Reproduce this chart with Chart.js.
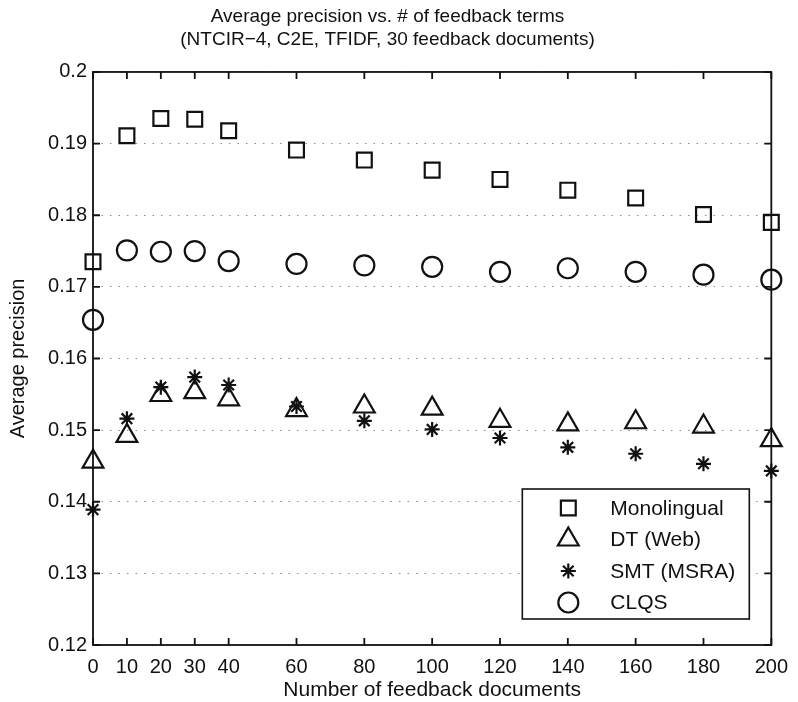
<!DOCTYPE html>
<html>
<head>
<meta charset="utf-8">
<script src="https://cdn.jsdelivr.net/npm/chart.js@4.4.1/dist/chart.umd.min.js"></script>
<style>
  html, body { margin: 0; padding: 0; background: #fff; }
  canvas { display: block; }
</style>
</head>
<body>
<canvas id="chartPrecision" width="798" height="702"></canvas>
<script>
// feedback document counts (x) and the four runs
var feedbackDocs = [0, 10, 20, 30, 40, 60, 80, 100, 120, 140, 160, 180, 200];
var monolingual = [0.1735, 0.1911, 0.1935, 0.1934, 0.1918, 0.1891, 0.1877, 0.1863, 0.1850, 0.1835, 0.1824, 0.1801, 0.1790];
var dtWeb = [0.1456, 0.1492, 0.1549, 0.1553, 0.1543, 0.1528, 0.1533, 0.1530, 0.1513, 0.1508, 0.1511, 0.1505, 0.1486];
var smtMsra = [0.1389, 0.1516, 0.1560, 0.1574, 0.1563, 0.1533, 0.1513, 0.1501, 0.1489, 0.1476, 0.1467, 0.1453, 0.1443];
var clqs = [0.1654, 0.1751, 0.1749, 0.1750, 0.1736, 0.1732, 0.1730, 0.1728, 0.1721, 0.1726, 0.1721, 0.1717, 0.1710];
var xTicks = [0, 10, 20, 30, 40, 60, 80, 100, 120, 140, 160, 180, 200];
var yTicks = [0.12, 0.13, 0.14, 0.15, 0.16, 0.17, 0.18, 0.19, 0.2];

var ink = '#111';
var fontFamily = '"Liberation Sans", Arial, Helvetica, sans-serif';

function toPoints(values) {
    return values.map(function (v, i) {
        return {x: feedbackDocs[i], y: v};
    });
}

function serie(label, values, style, radius) {
    return {
        label: label,
        data: toPoints(values),
        pointStyle: style,
        pointRadius: radius,
        pointBorderWidth: 2.2,
        pointBorderColor: ink,
        pointBackgroundColor: 'rgba(0,0,0,0)',
        showLine: false,
        clip: false
    };
}

// box, inward tick marks and the legend inside the plot
var matlabFrame = {
    id: 'matlabFrame',
    afterDraw: function (chart) {
        var ctx = chart.ctx;
        var a = chart.chartArea;
        var sx = chart.scales.x, sy = chart.scales.y;
        var tick = 7;
        ctx.save();
        ctx.strokeStyle = ink;
        ctx.lineWidth = 1.8;
        ctx.strokeRect(a.left, a.top, a.right - a.left, a.bottom - a.top);
        ctx.beginPath();
        sx.ticks.forEach(function (t) {
            var px = sx.getPixelForValue(t.value);
            ctx.moveTo(px, a.bottom); ctx.lineTo(px, a.bottom - tick);
            ctx.moveTo(px, a.top); ctx.lineTo(px, a.top + tick);
        });
        sy.ticks.forEach(function (t) {
            var py = sy.getPixelForValue(t.value);
            ctx.moveTo(a.left, py); ctx.lineTo(a.left + tick, py);
            ctx.moveTo(a.right, py); ctx.lineTo(a.right - tick, py);
        });
        ctx.stroke();

        // legend
        var w = 227, h = 130;
        var bx = a.right - 22 - w, by = a.bottom - 26 - h;
        ctx.fillStyle = '#fff';
        ctx.fillRect(bx, by, w, h);
        ctx.lineWidth = 1.6;
        ctx.strokeRect(bx, by, w, h);
        ctx.font = '21px ' + fontFamily;
        ctx.textBaseline = 'middle';
        ctx.textAlign = 'left';
        chart.data.datasets.forEach(function (ds, i) {
            var cy = by + 19 + i * 31.5;
            ctx.strokeStyle = ink;
            ctx.fillStyle = '#fff';
            ctx.lineWidth = 2.2;
            Chart.helpers.drawPoint(ctx, {
                pointStyle: ds.pointStyle,
                radius: ds.pointRadius,
                rotation: 0,
                borderWidth: 2.2
            }, bx + 46, cy);
            ctx.fillStyle = ink;
            ctx.fillText(ds.label, bx + 88, cy + 1);
        });
        ctx.restore();
    }
};

var chartPrecision = new Chart(document.getElementById('chartPrecision'), {
    type: 'scatter',
    data: {
        datasets: [
            serie('Monolingual', monolingual, 'rect', 10.5),
            serie('DT (Web)', dtWeb, 'triangle', 12),
            serie('SMT (MSRA)', smtMsra, 'star', 7.5),
            serie('CLQS', clqs, 'circle', 10)
        ]
    },
    options: {
        responsive: false,
        animation: false,
        devicePixelRatio: 1,
        layout: {
            padding: {left: 0, right: 23, top: 0, bottom: 0}
        },
        plugins: {
            legend: {display: false},
            tooltip: {enabled: false},
            title: {
                display: true,
                text: ['Average precision vs. # of feedback terms', '(NTCIR\u22124, C2E, TFIDF, 30 feedback documents)'],
                color: ink,
                font: {family: fontFamily, size: 19, weight: 'normal', lineHeight: 1.21},
                padding: {top: 5.5, bottom: 20.5}
            }
        },
        scales: {
            x: {
                type: 'linear',
                min: 0,
                max: 200,
                afterBuildTicks: function (scale) {
                    scale.ticks = xTicks.map(function (v) { return {value: v}; });
                },
                afterFit: function (scale) {
                    scale.height = 57;
                },
                grid: {display: false, drawTicks: false},
                border: {display: false},
                ticks: {
                    color: ink,
                    padding: 10,
                    maxRotation: 0,
                    autoSkip: false,
                    font: {family: fontFamily, size: 20}
                },
                title: {
                    display: true,
                    text: 'Number of feedback documents',
                    color: ink,
                    font: {family: fontFamily, size: 21, lineHeight: 1.1},
                    padding: {top: 0, bottom: 0}
                }
            },
            y: {
                min: 0.12,
                max: 0.2,
                afterBuildTicks: function (scale) {
                    scale.ticks = yTicks.map(function (v) { return {value: v}; });
                },
                afterFit: function (scale) {
                    scale.width = 93;
                },
                grid: {color: '#8a8a8a', lineWidth: 1, drawTicks: false},
                border: {display: false, dash: [1.5, 7]},
                ticks: {
                    color: ink,
                    padding: 6,
                    font: {family: fontFamily, size: 20},
                    callback: function (v) { return String(Number(v.toFixed(2))); }
                },
                title: {
                    display: true,
                    text: 'Average precision',
                    color: ink,
                    font: {family: fontFamily, size: 20, lineHeight: 1.2},
                    padding: {top: 6, bottom: 0}
                }
            }
        }
    },
    plugins: [matlabFrame]
});
</script>
</body>
</html>
